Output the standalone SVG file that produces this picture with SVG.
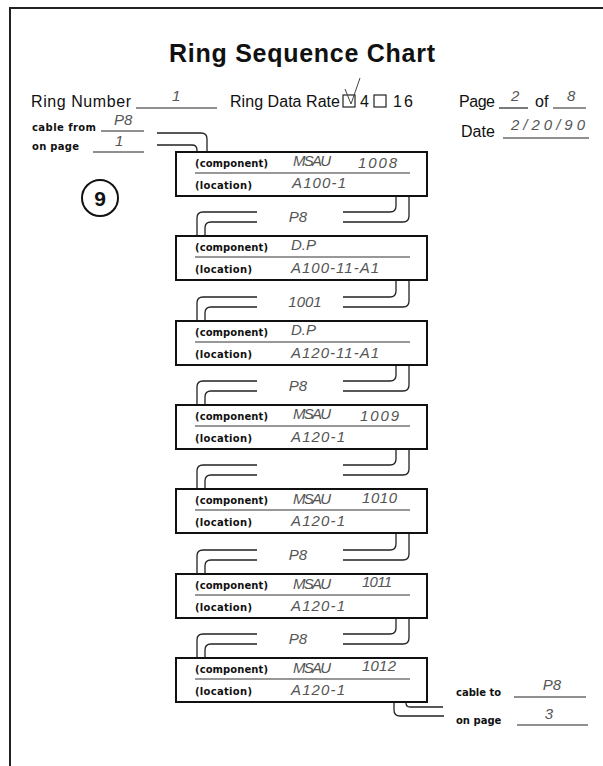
<svg xmlns="http://www.w3.org/2000/svg" width="603" height="766" viewBox="0 0 603 766">
<style>
.hd{font-family:"Liberation Sans",Arial,sans-serif;font-size:16px;fill:#111}
.sm{font-family:"DejaVu Sans",sans-serif;font-weight:bold;font-size:10px;fill:#111}
.hw{font-family:"Liberation Sans",Arial,sans-serif;font-style:italic;font-size:15px;fill:#555}
.ln{stroke:#222;stroke-width:1.2;fill:none}
.bx{stroke:#111;stroke-width:2;fill:#fff}
.sep{stroke:#333;stroke-width:1.2}
.cn{stroke:#222;stroke-width:1.3;fill:none}
</style>
<rect width="603" height="766" fill="#fff"/>
<path d="M10,766 V8 H603" fill="none" stroke="#222" stroke-width="2"/>
<g id="header">
<text x="302" y="62" text-anchor="middle" font-family="Liberation Sans,Arial,sans-serif" font-weight="bold" font-size="25" textLength="266" fill="#111">Ring Sequence Chart</text>
<text class="hd" x="31" y="107" textLength="100">Ring Number</text>
<line class="ln" x1="136" y1="108" x2="217" y2="108"/>
<text class="hw" x="172" y="101">1</text>
<text class="hd" x="230" y="107" textLength="110">Ring Data Rate</text>
<rect x="343" y="95" width="12" height="12" fill="none" stroke="#222" stroke-width="1.2"/>
<path d="M345,89 L351,104 L360,78" fill="none" stroke="#444" stroke-width="1"/>
<text class="hd" x="360" y="107">4</text>
<rect x="374" y="95" width="12" height="12" fill="none" stroke="#222" stroke-width="1.2"/>
<text class="hd" x="393" y="107" textLength="20">16</text>
<text class="hd" x="459" y="107" textLength="36">Page</text>
<line class="ln" x1="499" y1="108" x2="528" y2="108"/>
<text class="hw" x="511" y="101">2</text>
<text class="hd" x="535" y="107">of</text>
<line class="ln" x1="553" y1="108" x2="586" y2="108"/>
<text class="hw" x="567" y="101">8</text>
<text class="hd" x="461" y="137" textLength="34">Date</text>
<line class="ln" x1="503" y1="138" x2="589" y2="138"/>
<text class="hw" x="511" y="130" textLength="74">2/20/90</text>
</g>
<g id="cable-from">
<text class="sm" x="32" y="131" textLength="64">cable from</text>
<line class="ln" x1="101" y1="131" x2="144" y2="131"/>
<text class="hw" x="114" y="125">P8</text>
<text class="sm" x="32" y="150" textLength="47">on page</text>
<line class="ln" x1="93" y1="152" x2="144" y2="152"/>
<text class="hw" x="115" y="146">1</text>
</g>
<g id="marker9">
<circle cx="100" cy="198" r="18" fill="none" stroke="#111" stroke-width="2"/>
<text x="100" y="205.5" text-anchor="middle" font-family="Liberation Sans,Arial,sans-serif" font-weight="bold" font-size="21" fill="#111">9</text>
</g>
<g id="connectors">
<path class="cn" d="M157,133 H201 Q207,133 207,139 V152"/>
<path class="cn" d="M157,145 H192 Q197,145 197,150 V152"/>
<path class="cn" d="M396,196 V206 Q396,212 390,212 H343 M409,196 V216 Q409,222 403,222 H343 M257,212 H203 Q197,212 197,218 V236 M257,222 H211 Q205,222 205,228 V236"/>
<path class="cn" d="M396,280 V291 Q396,297 390,297 H343 M409,280 V301 Q409,307 403,307 H343 M257,297 H203 Q197,297 197,303 V321 M257,307 H211 Q205,307 205,313 V321"/>
<path class="cn" d="M396,365 V375 Q396,381 390,381 H343 M409,365 V385 Q409,391 403,391 H343 M257,381 H203 Q197,381 197,387 V405 M257,391 H211 Q205,391 205,397 V405"/>
<path class="cn" d="M396,449 V459 Q396,465 390,465 H343 M409,449 V469 Q409,475 403,475 H343 M257,465 H203 Q197,465 197,471 V489 M257,475 H211 Q205,475 205,481 V489"/>
<path class="cn" d="M396,533 V544 Q396,550 390,550 H343 M409,533 V554 Q409,560 403,560 H343 M257,550 H203 Q197,550 197,556 V574 M257,560 H211 Q205,560 205,566 V574"/>
<path class="cn" d="M396,618 V628 Q396,634 390,634 H343 M409,618 V638 Q409,644 403,644 H343 M257,634 H203 Q197,634 197,640 V658 M257,644 H211 Q205,644 205,650 V658"/>
<path class="cn" d="M406,702 V703 Q406,707 410,707 H443 M394,702 V710 Q394,716 400,716 H444"/>
<text class="hw" x="298" y="222" text-anchor="middle">P8</text>
<text class="hw" x="305" y="307" text-anchor="middle">1001</text>
<text class="hw" x="298" y="391" text-anchor="middle">P8</text>
<text class="hw" x="298" y="560" text-anchor="middle">P8</text>
<text class="hw" x="298" y="644" text-anchor="middle">P8</text>
</g>
<g id="box1">
<rect class="bx" x="176" y="152" width="251" height="44"/>
<line class="sep" x1="195" y1="173" x2="410" y2="173"/>
<text class="sm" x="195" y="167" textLength="73">(component)</text>
<text class="sm" x="195" y="189" textLength="57">(location)</text>
<text class="hw" x="293" y="166" textLength="38">MSAU</text>
<text class="hw" x="358" y="168" textLength="39">1008</text>
<text class="hw" x="292" y="188" textLength="54">A100-1</text>
</g>
<g id="box2">
<rect class="bx" x="176" y="236" width="251" height="44"/>
<line class="sep" x1="195" y1="257" x2="410" y2="257"/>
<text class="sm" x="195" y="251" textLength="73">(component)</text>
<text class="sm" x="195" y="273" textLength="57">(location)</text>
<text class="hw" x="291" y="250">D.P</text>
<text class="hw" x="291" y="273" textLength="88">A100-11-A1</text>
</g>
<g id="box3">
<rect class="bx" x="176" y="321" width="251" height="44"/>
<line class="sep" x1="195" y1="342" x2="410" y2="342"/>
<text class="sm" x="195" y="336" textLength="73">(component)</text>
<text class="sm" x="195" y="358" textLength="57">(location)</text>
<text class="hw" x="291" y="335">D.P</text>
<text class="hw" x="291" y="358" textLength="88">A120-11-A1</text>
</g>
<g id="box4">
<rect class="bx" x="176" y="405" width="251" height="44"/>
<line class="sep" x1="195" y1="426" x2="410" y2="426"/>
<text class="sm" x="195" y="420" textLength="73">(component)</text>
<text class="sm" x="195" y="442" textLength="57">(location)</text>
<text class="hw" x="293" y="419" textLength="38">MSAU</text>
<text class="hw" x="360" y="421" textLength="39">1009</text>
<text class="hw" x="291" y="442" textLength="54">A120-1</text>
</g>
<g id="box5">
<rect class="bx" x="176" y="489" width="251" height="44"/>
<line class="sep" x1="195" y1="510" x2="410" y2="510"/>
<text class="sm" x="195" y="504" textLength="73">(component)</text>
<text class="sm" x="195" y="526" textLength="57">(location)</text>
<text class="hw" x="293" y="504" textLength="38">MSAU</text>
<text class="hw" x="362" y="503" textLength="35">1010</text>
<text class="hw" x="291" y="526" textLength="54">A120-1</text>
</g>
<g id="box6">
<rect class="bx" x="176" y="574" width="251" height="44"/>
<line class="sep" x1="195" y1="595" x2="410" y2="595"/>
<text class="sm" x="195" y="589" textLength="73">(component)</text>
<text class="sm" x="195" y="611" textLength="57">(location)</text>
<text class="hw" x="293" y="589" textLength="38">MSAU</text>
<text class="hw" x="362" y="587" textLength="30">1011</text>
<text class="hw" x="291" y="611" textLength="54">A120-1</text>
</g>
<g id="box7">
<rect class="bx" x="176" y="658" width="251" height="44"/>
<line class="sep" x1="195" y1="679" x2="410" y2="679"/>
<text class="sm" x="195" y="673" textLength="73">(component)</text>
<text class="sm" x="195" y="695" textLength="57">(location)</text>
<text class="hw" x="293" y="673" textLength="38">MSAU</text>
<text class="hw" x="362" y="671" textLength="34">1012</text>
<text class="hw" x="291" y="695" textLength="54">A120-1</text>
</g>
<g id="cable-to">
<text class="sm" x="456" y="696">cable to</text>
<line class="ln" x1="514" y1="697" x2="586" y2="697"/>
<text class="hw" x="552" y="690" text-anchor="middle">P8</text>
<text class="sm" x="456" y="724">on page</text>
<line class="ln" x1="517" y1="725" x2="588" y2="725"/>
<text class="hw" x="549" y="719" text-anchor="middle">3</text>
</g>
</svg>
